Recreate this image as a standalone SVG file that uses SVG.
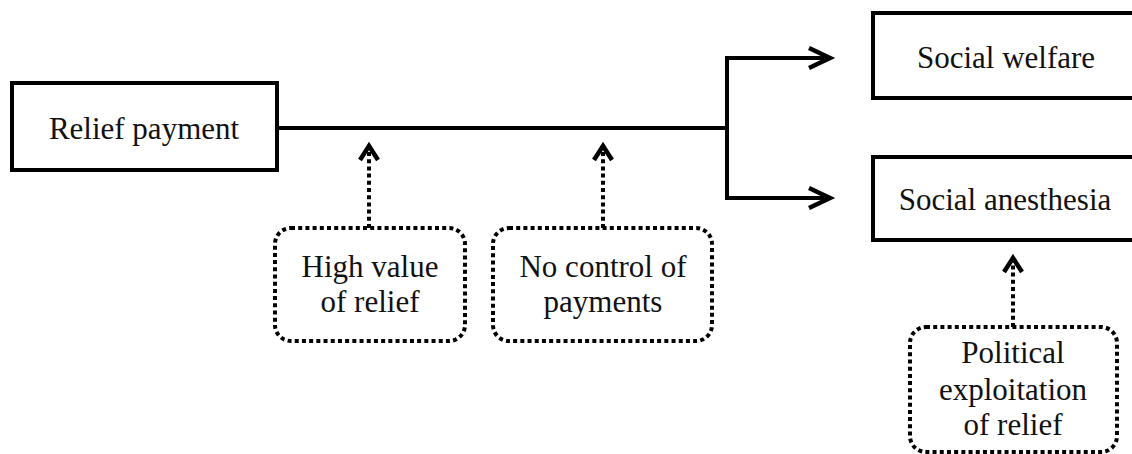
<svg xmlns="http://www.w3.org/2000/svg" width="1132" height="454" viewBox="0 0 1132 454">
<defs>
<style>
.box{fill:#fff;stroke:#000;stroke-width:4}
.dbox{fill:#fff;stroke:#000;stroke-width:4;stroke-dasharray:4 3.2}
.t{font-family:'Liberation Serif',serif;font-size:31px;fill:#111;text-anchor:middle}
.conn{fill:none;stroke:#000;stroke-width:4}
.dconn{fill:none;stroke:#000;stroke-width:4;stroke-dasharray:4 3.2}
</style>
<marker id="ah" markerUnits="userSpaceOnUse" markerWidth="30" markerHeight="30" refX="22" refY="10" orient="auto" overflow="visible">
<path d="M1,0 L22,10 L1,20" fill="none" stroke="#000" stroke-width="4.5"/>
</marker>
<marker id="dh" markerUnits="userSpaceOnUse" markerWidth="30" markerHeight="30" refX="15" refY="9" orient="auto" overflow="visible">
<path d="M1,0 L15,9 L1,18" fill="none" stroke="#000" stroke-width="4.5"/>
</marker>
</defs>
<rect width="1132" height="454" fill="#fff"/>
<g id="connectors">
<path class="conn" d="M277,128 H727"/>
<path class="conn" d="M727,58 V198"/>
<path class="conn" d="M725,58 H830" marker-end="url(#ah)"/>
<path class="conn" d="M725,198 H830" marker-end="url(#ah)"/>
<path class="dconn" d="M369,228 V146" marker-end="url(#dh)"/>
<path class="dconn" d="M603,228 V146" marker-end="url(#dh)"/>
<path class="dconn" d="M1013,327 V258" marker-end="url(#dh)"/>
</g>
<g id="relief-payment">
<rect class="box" x="12" y="83" width="265" height="87"/>
<text class="t" x="144" y="139">Relief payment</text>
</g>
<g id="social-welfare">
<rect class="box" x="873" y="13" width="270" height="85"/>
<text class="t" x="1006" y="68">Social welfare</text>
</g>
<g id="social-anesthesia">
<rect class="box" x="873" y="157" width="270" height="83"/>
<text class="t" x="1005" y="210">Social anesthesia</text>
</g>
<g id="high-value">
<rect class="dbox" x="275" y="228" width="190" height="113" rx="16"/>
<text class="t" x="370" y="277">High value</text>
<text class="t" x="370" y="312">of relief</text>
</g>
<g id="no-control">
<rect class="dbox" x="493" y="228" width="219" height="113" rx="16"/>
<text class="t" x="603" y="277">No control of</text>
<text class="t" x="603" y="312">payments</text>
</g>
<g id="political">
<rect class="dbox" x="910" y="327" width="207" height="125" rx="16"/>
<text class="t" x="1013" y="363">Political</text>
<text class="t" x="1013" y="400">exploitation</text>
<text class="t" x="1013" y="435">of relief</text>
</g>
</svg>
